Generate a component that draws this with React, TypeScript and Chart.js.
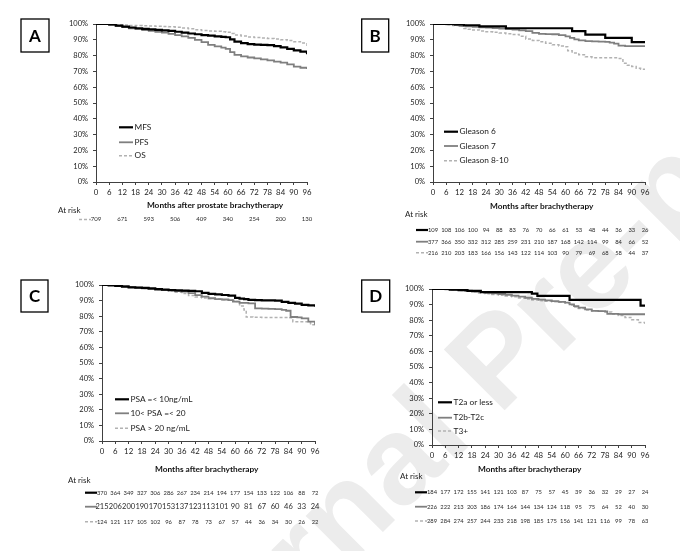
import React, { useEffect, useRef } from "react";
import { Chart, registerables } from "chart.js";

Chart.register(...registerables);

const FONT = "Lato, 'Open Sans', 'DejaVu Sans', sans-serif";

// ---------- Panel A ----------
const labelsA = ["MFS", "PFS", "OS"];
const monthsA = [0, 3, 6, 9, 12, 15, 18, 21, 24, 27, 30, 33, 36, 39, 42, 45, 48, 51, 54, 57, 59, 61, 63, 66, 69, 72, 75, 78, 81, 84, 87, 90, 93, 96];
const mfsA = [100, 100, 99.7, 99.0, 98.3, 97.8, 97.3, 96.9, 96.6, 96.3, 96.0, 95.6, 95.1, 94.6, 94.0, 93.5, 93.0, 92.6, 92.2, 91.8, 91.6, 90.3, 88.8, 87.9, 87.3, 86.9, 86.8, 86.6, 86.0, 85.2, 84.2, 83.3, 82.5, 80.8];
const pfsA = [100, 100, 99.5, 98.8, 98.0, 97.3, 96.7, 96.2, 95.7, 95.1, 94.5, 93.8, 93.0, 92.2, 91.2, 90.0, 88.5, 86.8, 85.8, 85.0, 84.3, 82.2, 80.5, 79.5, 78.8, 78.2, 77.6, 77.0, 76.2, 75.5, 74.5, 73.0, 72.3, 71.5];
const osA = [100, 100, 99.8, 99.5, 99.3, 99.1, 99.0, 98.9, 98.8, 98.6, 98.4, 98.2, 98.0, 97.5, 97.0, 96.4, 95.9, 95.6, 95.4, 95.1, 94.8, 94.0, 93.0, 92.4, 91.8, 91.4, 91.1, 90.8, 90.5, 90.1, 89.5, 88.8, 88.0, 86.0];
const riskMonthsA = [0, 12, 24, 36, 48, 60, 72, 84, 96];
const riskA = [709, 671, 593, 506, 409, 340, 254, 200, 130];

// ---------- Panel B ----------
const labelsB = ["Gleason 6", "Gleason 7", "Gleason 8-10"];
const monthsG6 = [0, 10, 14, 21, 33, 63, 69, 78, 90, 96];
const valuesG6 = [100, 99.7, 99.2, 98.5, 97.3, 95.5, 93.3, 91.2, 88.5, 88.5];
const monthsG7 = [0, 3, 6, 9, 12, 15, 18, 21, 24, 27, 30, 33, 36, 39, 42, 45, 48, 51, 54, 57, 60, 62, 64, 66, 69, 72, 75, 78, 80, 82, 84, 87, 90, 93, 96];
const valuesG7 = [100, 99.9, 99.7, 99.3, 98.9, 98.5, 98.2, 97.9, 97.7, 97.4, 97.1, 96.8, 96.4, 96.0, 95.5, 94.4, 93.8, 93.6, 93.5, 93.0, 92.2, 91.2, 90.3, 89.6, 89.1, 89.0, 88.9, 88.7, 88.2, 87.6, 86.3, 86.0, 86.0, 86.0, 86.0];
const monthsG810 = [0, 3, 6, 9, 12, 14, 16, 18, 21, 24, 27, 30, 33, 36, 39, 42, 45, 48, 51, 54, 57, 59, 61, 63, 66, 69, 72, 78, 84, 86, 88, 90, 92, 94, 96];
const valuesG810 = [100, 99.9, 99.6, 99.1, 98.5, 97.2, 96.7, 96.2, 95.6, 95.1, 94.7, 94.3, 93.9, 93.4, 92.2, 90.5, 89.6, 88.8, 87.8, 86.8, 86.0, 85.6, 83.0, 81.6, 80.5, 79.2, 78.6, 78.6, 78.2, 75.2, 73.9, 73.1, 72.0, 71.4, 69.7];

const riskMonths = [0, 6, 12, 18, 24, 30, 36, 42, 48, 54, 60, 66, 72, 78, 84, 90, 96];
const riskG6 = [109, 108, 106, 100, 94, 88, 83, 76, 70, 66, 61, 53, 48, 44, 36, 33, 26];
const riskG7 = [377, 366, 350, 332, 312, 285, 259, 231, 210, 187, 168, 142, 114, 99, 84, 66, 52];
const riskG810 = [216, 210, 203, 183, 166, 156, 143, 122, 114, 103, 90, 79, 69, 68, 58, 44, 37];

// ---------- Panel C ----------
const labelsC = ["PSA =< 10ng/mL", "10< PSA =< 20", "PSA > 20 ng/mL"];
const monthsPsaLow = [0, 3, 6, 9, 12, 15, 18, 21, 24, 27, 30, 33, 36, 39, 42, 45, 48, 51, 54, 57, 60, 62, 64, 66, 69, 72, 75, 78, 81, 84, 87, 90, 93, 96];
const valuesPsaLow = [100, 99.8, 99.5, 99.0, 98.5, 98.3, 98.1, 97.8, 97.4, 97.0, 96.8, 96.6, 96.4, 96.2, 96.0, 94.9, 94.3, 94.0, 93.6, 93.2, 91.7, 91.3, 91.0, 90.5, 90.3, 90.2, 90.1, 90.0, 89.2, 88.5, 88.0, 87.3, 86.9, 86.0];
const monthsPsaMid = [0, 3, 6, 9, 12, 15, 18, 21, 24, 27, 30, 33, 36, 39, 42, 45, 48, 51, 54, 57, 59, 62, 66, 69, 72, 75, 78, 81, 83, 85, 88, 90, 93, 96];
const valuesPsaMid = [100, 99.9, 99.6, 99.2, 98.7, 98.3, 97.9, 97.4, 97.0, 96.7, 96.4, 96.1, 95.7, 94.8, 93.5, 92.5, 91.5, 91.0, 90.7, 90.3, 89.3, 88.5, 88.2, 85.0, 84.8, 84.7, 84.5, 84.0, 83.5, 79.5, 79.3, 78.6, 76.5, 74.5];
const monthsPsaHigh = [0, 3, 6, 9, 12, 15, 18, 21, 24, 27, 30, 33, 36, 39, 42, 45, 48, 51, 54, 57, 60, 62, 64, 65, 68, 72, 78, 84, 86, 90, 93, 94, 96];
const valuesPsaHigh = [100, 99.9, 99.7, 99.3, 98.8, 98.3, 97.8, 97.3, 97.0, 96.6, 96.0, 95.4, 94.5, 93.3, 92.3, 91.6, 91.3, 91.0, 90.6, 90.2, 89.5, 86.5, 84.0, 79.5, 79.3, 79.2, 79.2, 79.0, 76.5, 76.5, 76.0, 74.5, 73.5];
const riskPsaLow = [370, 364, 349, 327, 306, 286, 267, 234, 214, 194, 177, 154, 133, 122, 106, 88, 72];
const riskPsaMid = [215, 206, 200, 190, 170, 153, 137, 123, 113, 101, 90, 81, 67, 60, 46, 33, 24];
const riskPsaHigh = [124, 121, 117, 105, 102, 96, 87, 78, 73, 67, 57, 44, 36, 34, 30, 26, 22];

// ---------- Panel D ----------
const labelsD = ["T2a or less", "T2b-T2c", "T3+"];
const monthsT2a = [0, 8, 12, 16, 22, 45, 47.5, 62, 94, 96];
const valuesT2a = [100, 99.6, 99.3, 98.8, 98.0, 97.0, 95.6, 93.0, 89.4, 89.4];
const monthsT2b = [0, 3, 6, 9, 12, 15, 18, 21, 24, 27, 30, 33, 36, 39, 42, 45, 48, 51, 54, 57, 60, 62, 64, 66, 69, 72, 75, 78, 79, 84, 90, 96];
const valuesT2b = [100, 100, 99.8, 99.6, 99.3, 98.9, 98.4, 98.0, 97.6, 97.2, 96.8, 96.3, 95.8, 95.1, 94.4, 93.7, 93.2, 92.7, 92.2, 91.8, 91.3, 90.2, 89.0, 88.0, 87.0, 86.0, 85.8, 85.6, 84.0, 83.8, 83.8, 83.8];
const monthsT3 = [0, 3, 6, 9, 12, 15, 18, 21, 24, 27, 30, 33, 36, 39, 42, 45, 48, 51, 54, 57, 60, 62, 64, 66, 69, 72, 75, 78, 81, 84, 87, 90, 93, 96];
const valuesT3 = [100, 100, 99.8, 99.5, 99.0, 98.5, 98.0, 97.5, 97.0, 96.5, 96.0, 95.5, 95.0, 94.3, 93.6, 93.0, 92.5, 92.1, 91.8, 91.5, 91.0, 89.8, 88.5, 87.5, 86.5, 86.0, 85.7, 85.2, 84.0, 83.0, 81.8, 80.3, 78.5, 76.5];
const riskT2a = [184, 177, 172, 155, 141, 121, 103, 87, 75, 57, 45, 39, 36, 32, 29, 27, 24];
const riskT2b = [226, 222, 213, 203, 186, 174, 164, 144, 134, 124, 118, 95, 75, 64, 52, 40, 30];
const riskT3 = [289, 284, 274, 257, 244, 233, 218, 198, 185, 175, 156, 141, 121, 116, 99, 78, 63];

const yTicksStep = 10;
const xTicksStep = 6;

// ---------- styles ----------
const STYLES = [
  { color: "#000000", width: 2.2, dash: [] as number[] },
  { color: "#7f7f7f", width: 1.8, dash: [] as number[] },
  { color: "#b2b2b2", width: 1.5, dash: [3, 2] },
];

interface SeriesCfg { label: string; months: number[]; values: number[] }
interface PanelCfg {
  letter: string;
  left: number; top: number; w: number; h: number;
  area: { l: number; r: number; t: number; b: number };
  box: { x: number; y: number; w: number; h: number };
  legend: { x: number; ys: number[] };
  title: string; titleX: number; titleY: number;
  atRiskX: number; atRiskY: number;
  riskMonths: number[];
  riskRows: number[][];
  riskYs: number[];
  riskFonts: number[];
  riskStyles: number[];
  series: SeriesCfg[];
}

const X_H = 20;

const panels: PanelCfg[] = [
  {
    letter: "A", left: 0, top: 0, w: 340, h: 270,
    area: { l: 96, r: 307, t: 24, b: 182 },
    box: { x: 21, y: 19, w: 28, h: 33 },
    legend: { x: 119, ys: [127.3, 142.3, 155.7] },
    title: "Months after prostate brachytherapy", titleX: 215, titleY: 205.7,
    atRiskX: 58, atRiskY: 210.7,
    riskMonths: riskMonthsA, riskRows: [riskA], riskYs: [219.5], riskFonts: [6], riskStyles: [2],
    series: [
      { label: labelsA[0], months: monthsA, values: mfsA },
      { label: labelsA[1], months: monthsA, values: pfsA },
      { label: labelsA[2], months: monthsA, values: osA },
    ],
  },
  {
    letter: "B", left: 340, top: 0, w: 340, h: 270,
    area: { l: 93, r: 305, t: 24, b: 182 },
    box: { x: 21.7, y: 19, w: 27, h: 33 },
    legend: { x: 104, ys: [131.7, 146, 160.7] },
    title: "Months after brachytherapy", titleX: 201.7, titleY: 206.7,
    atRiskX: 65, atRiskY: 214,
    riskMonths: riskMonths, riskRows: [riskG6, riskG7, riskG810], riskYs: [230, 241.7, 252.7], riskFonts: [5.8, 5.8, 5.8], riskStyles: [0, 1, 2],
    series: [
      { label: labelsB[0], months: monthsG6, values: valuesG6 },
      { label: labelsB[1], months: monthsG7, values: valuesG7 },
      { label: labelsB[2], months: monthsG810, values: valuesG810 },
    ],
  },
  {
    letter: "C", left: 0, top: 270, w: 340, h: 281,
    area: { l: 102, r: 315, t: 15, b: 171 },
    box: { x: 21, y: 10, w: 27, h: 32 },
    legend: { x: 115, ys: [129.3, 143.3, 158.3] },
    title: "Months after brachytherapy", titleX: 206.7, titleY: 199,
    atRiskX: 68, atRiskY: 210.7,
    riskMonths: riskMonths, riskRows: [riskPsaLow, riskPsaMid, riskPsaHigh], riskYs: [222.7, 236.7, 251.7], riskFonts: [5.8, 7.5, 5.8], riskStyles: [0, 1, 2],
    series: [
      { label: labelsC[0], months: monthsPsaLow, values: valuesPsaLow },
      { label: labelsC[1], months: monthsPsaMid, values: valuesPsaMid },
      { label: labelsC[2], months: monthsPsaHigh, values: valuesPsaHigh },
    ],
  },
  {
    letter: "D", left: 340, top: 270, w: 340, h: 281,
    area: { l: 92, r: 305, t: 19, b: 175 },
    box: { x: 21.7, y: 10, w: 28, h: 32 },
    legend: { x: 98, ys: [132.3, 147.7, 161] },
    title: "Months after brachytherapy", titleX: 189.7, titleY: 199,
    atRiskX: 60, atRiskY: 206.7,
    riskMonths: riskMonths, riskRows: [riskT2a, riskT2b, riskT3], riskYs: [222.3, 236.7, 251], riskFonts: [5.8, 5.8, 5.8], riskStyles: [0, 1, 2],
    series: [
      { label: labelsD[0], months: monthsT2a, values: valuesT2a },
      { label: labelsD[1], months: monthsT2b, values: valuesT2b },
      { label: labelsD[2], months: monthsT3, values: valuesT3 },
    ],
  },
];

function overlayPlugin(cfg: PanelCfg) {
  return {
    id: "overlay" + cfg.letter,
    afterDraw(chart: any) {
      const ctx: CanvasRenderingContext2D = chart.ctx;
      const xs = chart.scales.x;
      ctx.save();
      // letter box
      ctx.setLineDash([]);
      ctx.strokeStyle = "#000";
      ctx.lineWidth = 1.3;
      ctx.strokeRect(cfg.box.x, cfg.box.y, cfg.box.w, cfg.box.h);
      ctx.fillStyle = "#000";
      ctx.font = `bold 17px ${FONT}`;
      ctx.textAlign = "center";
      ctx.textBaseline = "middle";
      ctx.fillText(cfg.letter, cfg.box.x + cfg.box.w / 2, cfg.box.y + cfg.box.h / 2 + 1);

      // legend
      cfg.series.forEach((s, i) => {
        const st = STYLES[i];
        const y = cfg.legend.ys[i];
        ctx.beginPath();
        ctx.strokeStyle = st.color;
        ctx.lineWidth = st.width;
        ctx.setLineDash(st.dash);
        ctx.moveTo(cfg.legend.x, y);
        ctx.lineTo(cfg.legend.x + 14, y);
        ctx.stroke();
        ctx.setLineDash([]);
        ctx.fillStyle = "#222";
        ctx.font = `8.3px ${FONT}`;
        ctx.textAlign = "left";
        ctx.textBaseline = "middle";
        ctx.fillText(s.label, cfg.legend.x + 15.5, y);
      });

      // axis title
      ctx.fillStyle = "#111";
      ctx.font = `bold 8.3px ${FONT}`;
      ctx.textAlign = "center";
      ctx.textBaseline = "middle";
      ctx.fillText(cfg.title, cfg.titleX, cfg.titleY);

      // at risk
      ctx.fillStyle = "#222";
      ctx.font = `8px ${FONT}`;
      ctx.textAlign = "left";
      ctx.fillText("At risk", cfg.atRiskX, cfg.atRiskY);

      cfg.riskRows.forEach((row, r) => {
        const y = cfg.riskYs[r];
        const st = STYLES[cfg.riskStyles[r]];
        const x0 = xs.getPixelForValue(cfg.riskMonths[0]);
        ctx.beginPath();
        ctx.strokeStyle = st.color;
        ctx.lineWidth = st.width;
        ctx.setLineDash(st.dash);
        ctx.moveTo(x0 - 17, y);
        ctx.lineTo(x0 - 5, y);
        ctx.stroke();
        ctx.setLineDash([]);
        ctx.fillStyle = "#2a2a2a";
        ctx.font = `${cfg.riskFonts[r]}px ${FONT}`;
        ctx.textAlign = "center";
        ctx.textBaseline = "middle";
        row.forEach((v, i) => {
          ctx.fillText(String(v), xs.getPixelForValue(cfg.riskMonths[i]), y);
        });
      });
      ctx.restore();
    },
  };
}

function Panel({ cfg }: { cfg: PanelCfg }) {
  const ref = useRef<HTMLCanvasElement>(null);
  useEffect(() => {
    const canvas = ref.current;
    if (!canvas) return;
    const axisColor = "#404040";
    const chart = new Chart(canvas, {
      type: "line",
      data: {
        datasets: cfg.series.map((s, i) => ({
          label: s.label,
          data: s.months.map((m, k) => ({ x: m, y: s.values[k] })),
          stepped: true,
          borderColor: STYLES[i].color,
          borderWidth: STYLES[i].width,
          borderDash: STYLES[i].dash,
          pointRadius: 0,
          fill: false,
        })),
      },
      options: {
        responsive: false,
        animation: false,
        events: [],
        layout: {
          padding: {
            left: 0,
            top: cfg.area.t,
            right: cfg.w - cfg.area.r,
            bottom: cfg.h - cfg.area.b - X_H,
          },
        },
        scales: {
          x: {
            type: "linear",
            min: 0,
            max: 96,
            afterFit: (s: any) => { s.height = X_H; },
            ticks: {
              stepSize: xTicksStep,
              maxTicksLimit: 30,
              autoSkip: false,
              maxRotation: 0,
              minRotation: 0,
              padding: 3,
              color: "#222",
              font: { family: FONT, size: 7.8 },
            },
            grid: { drawOnChartArea: false, drawTicks: true, tickLength: 3, tickColor: axisColor },
            border: { display: true, color: axisColor, width: 1 },
          },
          y: {
            type: "linear",
            min: 0,
            max: 100,
            afterFit: (s: any) => { s.width = cfg.area.l; },
            ticks: {
              stepSize: yTicksStep,
              maxTicksLimit: 30,
              padding: 5,
              color: "#222",
              font: { family: FONT, size: 7.5 },
              callback: (v: any) => `${v}%`,
            },
            grid: { drawOnChartArea: false, drawTicks: true, tickLength: 3, tickColor: axisColor },
            border: { display: true, color: axisColor, width: 1 },
          },
        },
        plugins: {
          legend: { display: false },
          tooltip: { enabled: false },
          title: { display: false },
        },
      },
      plugins: [overlayPlugin(cfg)],
    } as any);
    return () => chart.destroy();
  }, [cfg]);
  return (
    <canvas
      ref={ref}
      width={cfg.w}
      height={cfg.h}
      style={{ position: "absolute", left: cfg.left, top: cfg.top, width: cfg.w, height: cfg.h }}
    />
  );
}

export default function App() {
  return (
    <div
      style={{
        position: "absolute",
        left: 0,
        top: 0,
        width: 680,
        height: 551,
        overflow: "hidden",
        background: "#ffffff",
      }}
    >
      <div
        style={{
          position: "absolute",
          left: 155,
          top: 760,
          fontFamily: "'Liberation Sans', Arial, sans-serif",
          fontWeight: "bold",
          fontSize: 125,
          lineHeight: 1,
          whiteSpace: "nowrap",
          color: "#ececec",
          transformOrigin: "0 0",
          transform: "rotate(-45deg) translateY(-106px)",
        }}
      >
        Journal Pre-proof
      </div>
      {panels.map((p) => (
        <Panel key={p.letter} cfg={p} />
      ))}
    </div>
  );
}
